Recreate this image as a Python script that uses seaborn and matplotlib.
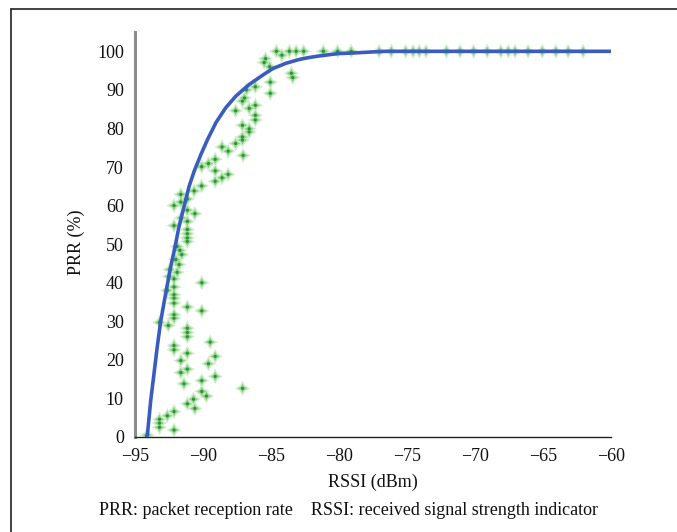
import matplotlib
matplotlib.use("Agg")
import matplotlib.pyplot as plt
from matplotlib.lines import Line2D
import seaborn as sns
import pandas as pd

# ---- data ----
rssi_pts = [
    # top row
    -84.6, -84.2, -83.65, -83.15, -82.6, -81.15, -80.1, -79.1, -77.05, -76.15,
    -75.1, -74.55, -74.1, -73.6, -72.1, -71.1, -70.1, -69.1, -68.1, -67.55,
    -67.05, -66.1, -65.05, -64.05, -63.15, -62.05,
    # upper cluster
    -85.4, -85.5, -85.1, -83.5, -83.4, -85.05, -85.05, -86.15, -86.8, -86.95,
    -87.1, -87.6, -86.6, -86.15, -86.15, -86.15, -87.1, -86.6, -86.6, -87.1,
    -87.1, -87.6, -88.6, -88.15, -87.05, -89.1, -89.6, -90.1, -89.1, -88.6,
    -88.15, -89.1, -90.1, -90.65,
    # lower cluster
    -91.63, -92.13, -91.63, -91.15, -90.6, -91.15, -91.6, -91.15, -92.13, -91.15,
    -91.15, -91.15, -91.15, -91.9, -91.7, -91.56, -92.0, -91.76, -92.44, -91.9,
    -92.5, -92.13, -90.09, -92.13, -92.13, -92.13, -92.13, -92.62, -91.15, -90.09,
    -92.13, -92.13, -93.2, -92.55, -91.15, -91.15, -91.15, -89.47, -92.13, -92.13,
    -91.15, -89.1, -91.63, -89.6, -91.15, -91.63, -89.1, -91.4, -90.09, -87.09,
    -90.09, -89.75, -90.7, -91.15, -90.6, -92.13, -92.62, -93.2, -93.2, -93.2,
    -92.13, -94.1,
]
prr_pts = [
    100, 99.0, 100, 100, 100, 100, 100, 100, 100, 100,
    100, 100, 100, 100, 100, 100, 100, 100, 100, 100,
    100, 100, 100, 100, 100, 100,
    98.1, 97.1, 96.0, 94.3, 93.2, 92.0, 89.1, 90.8, 90.0, 87.9,
    87.1, 84.6, 85.2, 86.0, 83.4, 82.2, 80.8, 79.9, 79.1, 77.8,
    77.0, 76.1, 75.2, 74.1, 73.0, 72.0, 70.9, 70.1, 69.0, 67.2,
    68.1, 66.3, 65.1, 63.8,
    62.9, 60.0, 60.9, 61.7, 57.9, 58.8, 56.8, 55.9, 54.8, 53.8,
    52.7, 51.6, 50.7, 49.4, 48.4, 47.3, 46.0, 44.7, 43.4, 42.7,
    41.6, 41.0, 40.0, 38.9, 36.9, 36.0, 34.7, 38.0, 33.7, 32.7,
    31.7, 30.8, 29.7, 28.9, 28.2, 27.1, 26.0, 24.6, 23.7, 22.6,
    21.7, 20.9, 19.8, 19.0, 17.6, 16.7, 15.7, 13.8, 14.6, 12.6,
    11.8, 10.6, 9.8, 8.6, 7.4, 6.6, 5.5, 4.6, 3.6, 2.5,
    1.8, 0.5,
]

curve_rssi = [-94.15, -94.09, -93.84, -93.6, -93.36, -93.11, -92.74, -92.37, -92.05,
              -91.76, -91.39, -91.02, -90.65, -90.16, -89.67, -89.05, -88.32, -87.58,
              -86.6, -85.62, -84.88, -83.9, -82.91, -82.18, -81.44, -80.09, -78.74,
              -77.5, -76.53, -70.0, -65.0, -60.0]
curve_prr = [0.0, 0.5, 9.6, 16.5, 23.5, 30.0, 37.3, 44.2, 49.4,
             54.6, 59.8, 65.0, 68.9, 73.2, 77.1, 81.5, 85.4, 88.4,
             91.4, 93.8, 95.5, 96.9, 97.9, 98.4, 98.8, 99.4, 99.6,
             99.85, 100.0, 100.0, 100.0, 100.0]

x_ticks = [-95, -90, -85, -80, -75, -70, -65, -60]
y_ticks = [0, 10, 20, 30, 40, 50, 60, 70, 80, 90, 100]

scatter_df = pd.DataFrame({"RSSI": rssi_pts, "PRR": prr_pts})
curve_df = pd.DataFrame({"RSSI": curve_rssi, "PRR": curve_prr})

sns.set_style("white")
plt.rcParams["font.family"] = ["Liberation Serif", "DejaVu Serif"]

fig = plt.figure(figsize=(6.77, 5.32), dpi=100)
ax = fig.add_axes([0.1994, 0.1786, 0.7031, 0.7612])

# glow star markers
sns.scatterplot(data=scatter_df, x="RSSI", y="PRR", ax=ax, marker=(4, 1, 0), s=120,
                color="#cdeec9", edgecolor="none", linewidth=0, zorder=2, legend=False)
sns.scatterplot(data=scatter_df, x="RSSI", y="PRR", ax=ax, marker=(4, 1, 0), s=45,
                color="#86cf84", edgecolor="none", linewidth=0, zorder=3, legend=False)
sns.scatterplot(data=scatter_df, x="RSSI", y="PRR", ax=ax, marker="o", s=5,
                color="#2f8f33", edgecolor="none", linewidth=0, zorder=4, legend=False)

sns.lineplot(data=curve_df, x="RSSI", y="PRR", ax=ax, color="#3a5cbf", linewidth=2.6,
             zorder=5, sort=True, estimator=None)

ax.set_xlim(-95, -60)
ax.set_ylim(0, 105)
ax.set_xticks(x_ticks)
ax.set_xticklabels(["\u2212%d" % abs(v) for v in x_ticks])
ax.set_yticks(y_ticks + [105])
ax.set_yticklabels([str(v) for v in y_ticks] + [""])

for s in ["top", "right"]:
    ax.spines[s].set_visible(False)
ax.spines["left"].set_color("#8c8c8c")
ax.spines["left"].set_linewidth(2.2)
ax.spines["bottom"].set_color("#222222")
ax.spines["bottom"].set_linewidth(1.0)

ax.tick_params(axis="both", direction="in", length=5, width=1, color="#222222",
               labelsize=13, labelcolor="#111111")
ax.tick_params(axis="x", pad=8)
ax.tick_params(axis="y", pad=8)

ax.set_xlabel("RSSI (dBm)", fontsize=13, color="#111111", labelpad=6)
ax.set_ylabel("PRR (%)", fontsize=13, color="#111111")
ax.yaxis.set_label_coords(-0.105, 0.48)

fig.text(0.515, 0.040, "PRR: packet reception rate    RSSI: received signal strength indicator",
         ha="center", va="center", fontsize=13, color="#111111")

# outer frame (cut off at right and bottom)
fig.add_artist(Line2D([11 / 677, 11 / 677], [0, 1 - 9 / 532], transform=fig.transFigure,
                      color="#333333", linewidth=1.3))
fig.add_artist(Line2D([11 / 677, 1], [1 - 9 / 532, 1 - 9 / 532], transform=fig.transFigure,
                      color="#333333", linewidth=1.3))

fig.savefig("out.png", dpi=100, facecolor="white")
